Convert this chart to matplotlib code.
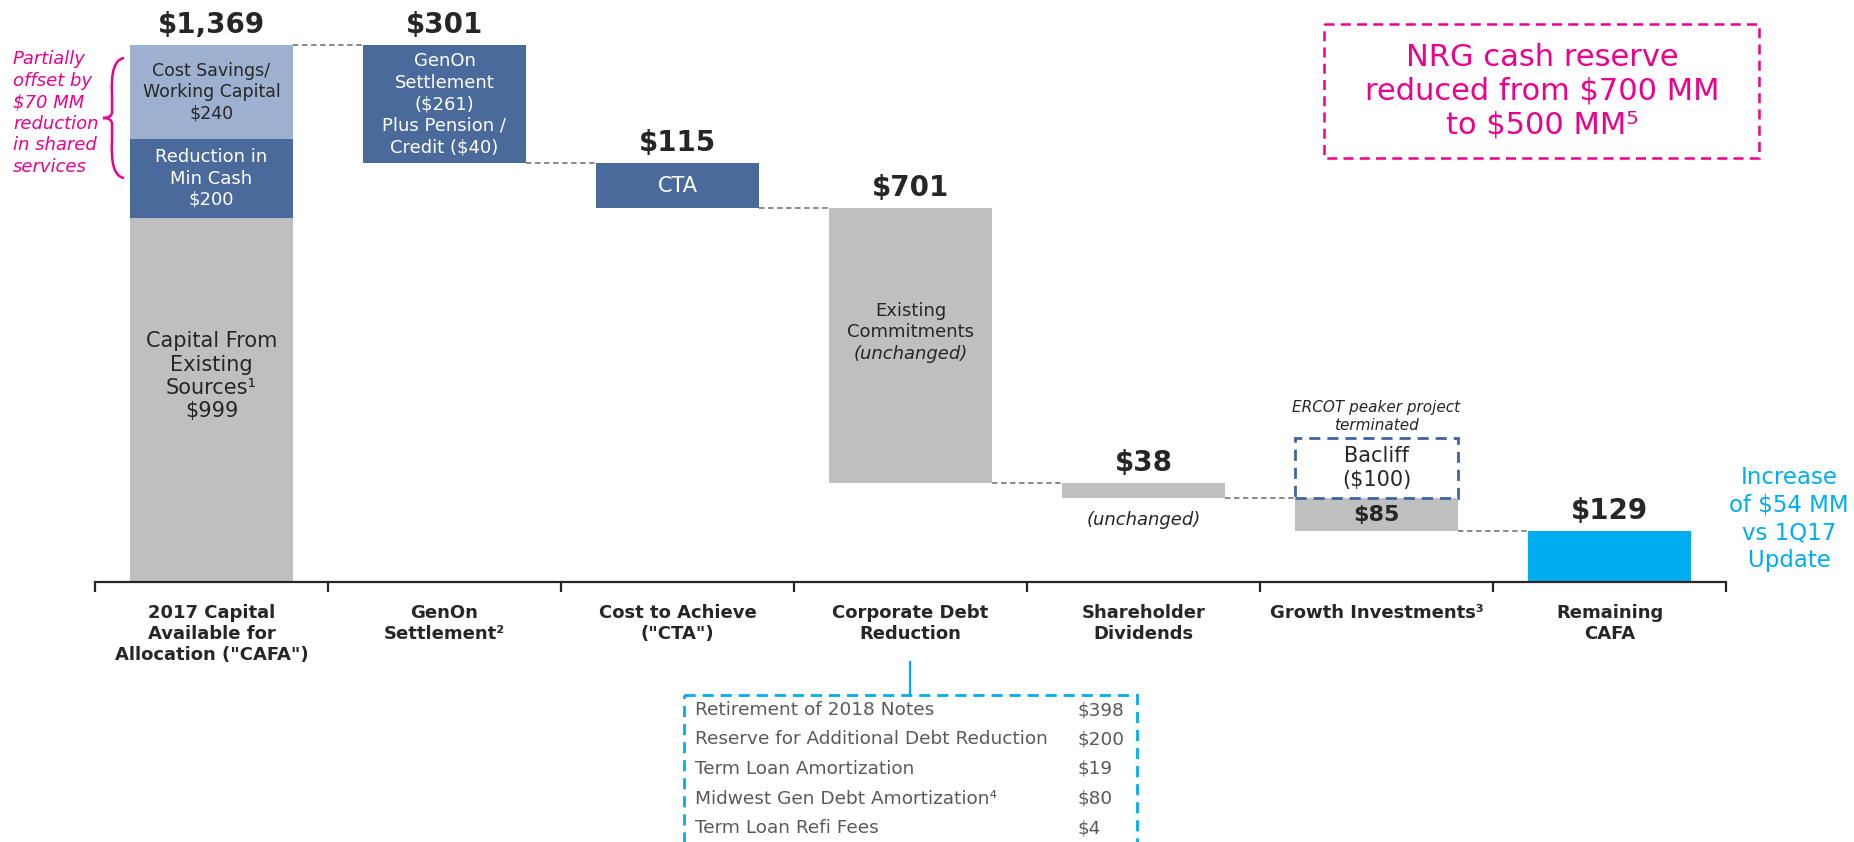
#NRG 2017 capital allocation waterfall
import matplotlib.pyplot as plt
from matplotlib.patches import Rectangle, PathPatch
from matplotlib.path import Path

plt.rcParams['font.family'] = ['DejaVu Sans']

categories = ['2017 Capital\nAvailable for\nAllocation ("CAFA")', 'GenOn\nSettlement²',
              'Cost to Achieve\n("CTA")', 'Corporate Debt\nReduction',
              'Shareholder\nDividends', 'Growth Investments³', 'Remaining\nCAFA']
values = [1369, 301, 115, 701, 38, 85, 129]
value_labels = ['$1,369', '$301', '$115', '$701', '$38', '$85', '$129']

# first bar split (drawn inside $1,369)
cost_savings = 240
min_cash = 200
existing = values[0] - cost_savings - min_cash

bacliff = 100
debt_items = ['Retirement of 2018 Notes', 'Reserve for Additional Debt Reduction',
              'Term Loan Amortization', 'Midwest Gen Debt Amortization⁴', 'Term Loan Refi Fees']
debt_values = ['$398', '$200', '$19', '$80', '$4']

GRAY = '#BFBFBF'
DARK = '#4A6A9B'
LIGHT = '#9DB0CF'
CYAN = '#00AEEF'
PINK = '#EC008C'
TXT = '#262626'

# waterfall geometry
bottoms, heights = [0], [values[0]]
run = values[0]
for v in values[1:6]:
    run -= v
    bottoms.append(run)
    heights.append(v)
bottoms.append(0)
heights.append(values[6])
colors = [GRAY, DARK, DARK, GRAY, GRAY, GRAY, CYAN]

fig = plt.figure(figsize=(18.54, 8.42), dpi=100)
ax = fig.add_axes([95 / 1854, 0, 1631 / 1854, 1])
ppu = 0.3921  # pixels per unit
ax.set_ylim(-260 / ppu, 582 / ppu)
ax.set_xlim(-0.5, 6.5)
w = 0.7
x = list(range(len(categories)))

# first bar stacked
ax.bar(0, existing, width=w, color=GRAY)
ax.bar(0, min_cash, bottom=existing, width=w, color=DARK)
ax.bar(0, cost_savings, bottom=existing + min_cash, width=w, color=LIGHT)
ax.bar(x[1:], heights[1:], bottom=bottoms[1:], width=w, color=colors[1:])

# connectors
for i in range(len(x) - 1):
    lvl = bottoms[i + 1] + heights[i + 1]
    ax.plot([x[i] + w / 2, x[i + 1] - w / 2], [lvl, lvl], ls=(0, (3, 2)), color='#808080', lw=1.3)

# value labels
for i in x:
    if i == 5:
        continue
    top = bottoms[i] + heights[i]
    ax.text(i, top + 52, value_labels[i], ha='center', va='center', fontsize=20,
            fontweight='bold', color=TXT)
ax.text(5, bottoms[5] + heights[5] / 2, value_labels[5], ha='center', va='center',
        fontsize=16, fontweight='bold', color=TXT)

# inside texts
ax.text(0, existing + min_cash + cost_savings / 2, 'Cost Savings/\nWorking Capital\n$%d' % cost_savings,
        ha='center', va='center', fontsize=12.5, color=TXT, linespacing=1.2)
ax.text(0, existing + min_cash / 2, 'Reduction in\nMin Cash\n$%d' % min_cash,
        ha='center', va='center', fontsize=13, color='white', linespacing=1.22)
ax.text(0, 525, 'Capital From\nExisting\nSources¹\n$999', ha='center', va='center',
        fontsize=15, color=TXT, linespacing=1.2)
ax.text(1, bottoms[1] + heights[1] / 2, 'GenOn\nSettlement\n($261)\nPlus Pension /\nCredit ($40)',
        ha='center', va='center', fontsize=13, color='white', linespacing=1.25)
ax.text(2, bottoms[2] + heights[2] / 2, 'CTA', ha='center', va='center', fontsize=15, color='white')
ax.text(3, 665, 'Existing\nCommitments', ha='center', va='center', fontsize=13, color=TXT, linespacing=1.22)
ax.text(3, 582, '(unchanged)', ha='center', va='center', fontsize=13, color=TXT, style='italic')
ax.text(4, bottoms[4] - 57, '(unchanged)', ha='center', va='center', fontsize=13, color=TXT, style='italic')

# Bacliff dashed box
g_top = bottoms[5] + heights[5]
ax.add_patch(Rectangle((5 - w / 2, g_top), w, bacliff * 1.54, fill=False, ls=(0, (4, 2.5)),
                       lw=2, ec='#3D66A0'))
ax.text(5, g_top + bacliff * 0.77, 'Bacliff\n($%d)' % bacliff, ha='center', va='center',
        fontsize=15, color=TXT, linespacing=1.22)
ax.text(5, 422, 'ERCOT peaker project\nterminated', ha='center', va='center', fontsize=11,
        color=TXT, style='italic', linespacing=1.3)

# category labels
for i, c in enumerate(categories):
    ax.text(i, -55, c, ha='center', va='top', fontsize=13, fontweight='bold', color=TXT,
            linespacing=1.22)

# axis
for s in ['top', 'right', 'left']:
    ax.spines[s].set_visible(False)
ax.spines['bottom'].set_position(('data', 0))
ax.spines['bottom'].set_linewidth(1.6)
ax.spines['bottom'].set_color(TXT)
ax.set_xticks([i - 0.5 for i in range(8)])
ax.set_xticklabels([])
ax.tick_params(axis='x', length=7, width=1.6, color=TXT, direction='out')
ax.set_yticks([])
ax.patch.set_alpha(0)

# overlay in pixel coords for notes
ov = fig.add_axes([0, 0, 1, 1])
ov.set_xlim(0, 1854)
ov.set_ylim(842, 0)
ov.axis('off')
ov.patch.set_alpha(0)

ov.text(13, 113, 'Partially\noffset by\n$70 MM\nreduction\nin shared\nservices', ha='left', va='center',
        fontsize=13, color=PINK, style='italic', linespacing=1.25)
brace = Path([(124, 58), (110, 60), (112, 95), (112, 112), (112, 118), (103, 118),
              (112, 118), (112, 124), (112, 141), (110, 176), (124, 178)],
             [Path.MOVETO, Path.CURVE3, Path.CURVE3, Path.LINETO, Path.CURVE3, Path.CURVE3,
              Path.CURVE3, Path.CURVE3, Path.LINETO, Path.CURVE3, Path.CURVE3])
ov.add_patch(PathPatch(brace, fill=False, ec=PINK, lw=1.8))

ov.add_patch(Rectangle((1324, 24), 435, 134, fill=False, ls=(0, (4, 2.5)), lw=1.8, ec=PINK))
ov.text(1542, 91, 'NRG cash reserve\nreduced from $700 MM\nto $500 MM⁵', ha='center', va='center',
        fontsize=22, color=PINK, linespacing=1.2)

ov.text(1789, 519, 'Increase\nof $54 MM\nvs 1Q17\nUpdate', ha='center', va='center',
        fontsize=16.5, color=CYAN, linespacing=1.27)

# debt breakdown table
ov.plot([910, 910], [662, 695], color=CYAN, lw=1.6)
ov.add_patch(Rectangle((684, 695), 453, 200, fill=False, ls=(0, (4, 2.5)), lw=2, ec=CYAN))
for k, (n, v) in enumerate(zip(debt_items, debt_values)):
    yy = 710 + k * 29.5
    ov.text(695, yy, n, ha='left', va='center', fontsize=13.3, color='#595959')
    ov.text(1078, yy, v, ha='left', va='center', fontsize=13.3, color='#595959')

fig.savefig('out.png', dpi=100)
